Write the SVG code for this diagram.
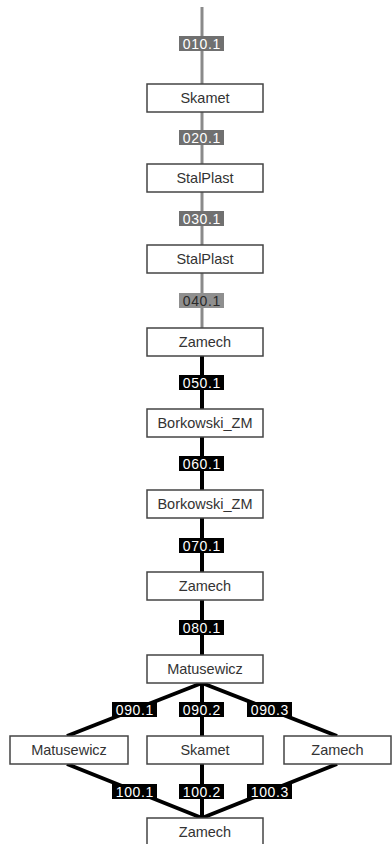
<svg xmlns="http://www.w3.org/2000/svg" width="392" height="844" viewBox="0 0 392 844">
<style>
.box{fill:#fff;stroke:#444;stroke-width:1.5}
.bt{font-family:"Liberation Sans",Arial,sans-serif;font-size:14.5px;fill:#333;text-anchor:middle}
.lt{font-family:"Liberation Sans",Arial,sans-serif;font-size:14px;fill:#fff;text-anchor:middle;letter-spacing:0.6px}
.g{stroke:#8a8a8a;stroke-width:3;fill:none}
.k{stroke:#000;stroke-width:4;fill:none}
.lg{fill:#707070}
.lg2{fill:#8f8f8f}
.lk{fill:#000}
</style>
<g id="connectors">
<line class="g" x1="202" y1="7" x2="202" y2="84"/>
<line class="g" x1="202" y1="112" x2="202" y2="164"/>
<line class="g" x1="202" y1="192" x2="202" y2="245"/>
<line class="g" x1="202" y1="273" x2="202" y2="328"/>
<line class="k" x1="202" y1="356" x2="202" y2="409"/>
<line class="k" x1="202" y1="437" x2="202" y2="490"/>
<line class="k" x1="202" y1="518" x2="202" y2="572"/>
<line class="k" x1="202" y1="600" x2="202" y2="655"/>
<line class="k" x1="202" y1="683" x2="67" y2="736"/>
<line class="k" x1="202" y1="683" x2="202" y2="736"/>
<line class="k" x1="202" y1="683" x2="337" y2="736"/>
<line class="k" x1="67" y1="764" x2="202" y2="818"/>
<line class="k" x1="202" y1="764" x2="202" y2="818"/>
<line class="k" x1="337" y1="764" x2="202" y2="818"/>
<g id="labels">
<rect class="lg" x="179" y="36" width="45" height="15"/><text class="lt" x="201.8" y="48.5">010.1</text>
<rect class="lg" x="179" y="130" width="45" height="15"/><text class="lt" x="201.8" y="142.5">020.1</text>
<rect class="lg" x="179" y="211" width="45" height="15"/><text class="lt" x="201.8" y="223.5">030.1</text>
<rect class="lg2" x="179" y="293" width="45" height="15"/><text class="lt" x="201.8" y="305.5" style="fill:#2a2a2a">040.1</text>
<rect class="lk" x="179" y="375" width="45" height="15"/><text class="lt" x="201.8" y="387.5">050.1</text>
<rect class="lk" x="179" y="456" width="45" height="15"/><text class="lt" x="201.8" y="468.5">060.1</text>
<rect class="lk" x="179" y="538" width="45" height="15"/><text class="lt" x="201.8" y="550.5">070.1</text>
<rect class="lk" x="179" y="620" width="45" height="15"/><text class="lt" x="201.8" y="632.5">080.1</text>
<rect class="lk" x="112" y="702" width="45" height="15"/><text class="lt" x="134.8" y="714.5">090.1</text>
<rect class="lk" x="179" y="702" width="45" height="15"/><text class="lt" x="201.8" y="714.5">090.2</text>
<rect class="lk" x="247" y="702" width="45" height="15"/><text class="lt" x="269.8" y="714.5">090.3</text>
<rect class="lk" x="112" y="784" width="45" height="15"/><text class="lt" x="134.8" y="796.5">100.1</text>
<rect class="lk" x="179" y="784" width="45" height="15"/><text class="lt" x="201.8" y="796.5">100.2</text>
<rect class="lk" x="247" y="784" width="45" height="15"/><text class="lt" x="269.8" y="796.5">100.3</text>
</g>
</g>
<g id="n1"><rect class="box" x="147" y="84" width="116" height="28"/><text class="bt" x="205" y="103">Skamet</text></g>
<g id="n2"><rect class="box" x="147" y="164" width="116" height="28"/><text class="bt" x="205" y="183">StalPlast</text></g>
<g id="n3"><rect class="box" x="147" y="245" width="116" height="28"/><text class="bt" x="205" y="264">StalPlast</text></g>
<g id="n4"><rect class="box" x="147" y="328" width="116" height="28"/><text class="bt" x="205" y="347">Zamech</text></g>
<g id="n5"><rect class="box" x="147" y="409" width="116" height="28"/><text class="bt" x="205" y="428">Borkowski_ZM</text></g>
<g id="n6"><rect class="box" x="147" y="490" width="116" height="28"/><text class="bt" x="205" y="509">Borkowski_ZM</text></g>
<g id="n7"><rect class="box" x="147" y="572" width="116" height="28"/><text class="bt" x="205" y="591">Zamech</text></g>
<g id="n8"><rect class="box" x="147" y="655" width="116" height="28"/><text class="bt" x="205" y="674">Matusewicz</text></g>
<g id="n9"><rect class="box" x="10" y="736" width="118" height="28"/><text class="bt" x="69" y="755">Matusewicz</text></g>
<g id="n10"><rect class="box" x="147" y="736" width="116" height="28"/><text class="bt" x="205" y="755">Skamet</text></g>
<g id="n11"><rect class="box" x="284" y="736" width="107" height="28"/><text class="bt" x="337.5" y="755">Zamech</text></g>
<g id="n12"><rect class="box" x="147" y="818" width="116" height="28"/><text class="bt" x="205" y="837">Zamech</text></g>
</svg>
